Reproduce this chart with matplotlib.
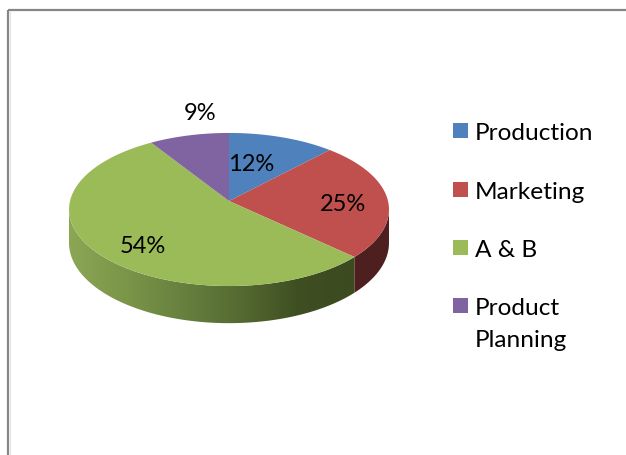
import numpy as np
import matplotlib
matplotlib.use('Agg')
import matplotlib.pyplot as plt
from matplotlib.patches import Polygon, Rectangle
from matplotlib.colors import LinearSegmentedColormap

# Chart data
categories = ['Production', 'Marketing', 'A & B', 'Product\nPlanning']
shares = [12, 25, 54, 9]
slice_colors = ['#4f81bd', '#c0504d', '#9bbb59', '#8064a2']
red_side = '#4d1f1f'

# Pie geometry in pixels, the disc is seen in perspective
cx, cy = 229, 202
half_w, half_h = 159, 75.6
persp = 0.111
depth = 33


def rim(t):
    # t is the angle clockwise from the top of the disc
    d = 1 + persp * np.cos(t)
    return np.column_stack([cx + half_w * np.sin(t) / d, cy - half_h * np.cos(t) / d])


def rim_low(t):
    # same rim, dropped to the underside of the disc
    d = 1 + persp * np.cos(t)
    return rim(t) + np.column_stack([np.zeros_like(t), depth / d])


plt.rcParams['font.family'] = ['Lato', 'DejaVu Sans']
fig = plt.figure(figsize=(6.26, 4.56), dpi=100)
ax = fig.add_axes([0, 0, 1, 1])
ax.set_xlim(0, 626)
ax.set_ylim(456, 0)
ax.axis('off')

# Chart frame
ax.plot([9.6, 9.6], [456, 11.5], color='#e4e4e4', lw=0.8, solid_capstyle='butt')
ax.plot([8, 8], [456, 10.5], color='#868686', lw=1.6, solid_capstyle='butt')
ax.plot([8, 626], [10.5, 10.5], color='#868686', lw=1.6, solid_capstyle='butt')

edges = np.cumsum([0] + shares) / sum(shares) * 2 * np.pi
# Rim angles where the disc outline turns away from the viewer
right_turn = np.arccos(-persp)
left_turn = 2 * np.pi - right_turn

# Side wall of the large slice, shaded from left to right
side_cmap = LinearSegmentedColormap.from_list(
    'green_side', ['#8ba654', '#7b9549', '#67803e', '#556a32', '#3f4f22', '#3c4a20'])
wall_t = np.linspace(edges[2], left_turn, 100)
wall = Polygon(np.vstack([rim(wall_t), rim_low(wall_t)[::-1]]), closed=True, fc='none', ec='none')
ax.add_patch(wall)
grad = np.linspace(0, 1, 256).reshape(1, -1)
img = ax.imshow(grad, cmap=side_cmap, aspect='auto', zorder=1,
                extent=[rim(wall_t)[:, 0].min(), rim(wall_t)[:, 0].max(), 330, 200])
img.set_clip_path(wall)
ax.set_xlim(0, 626)
ax.set_ylim(456, 0)

red_t = np.linspace(right_turn, edges[2], 40)
ax.add_patch(Polygon(np.vstack([rim(red_t), rim_low(red_t)[::-1]]), closed=True,
                     fc=red_side, ec='none', zorder=1))

# Top faces
for i in range(len(shares)):
    t = np.linspace(edges[i], edges[i + 1], 80)
    ax.add_patch(Polygon(np.vstack([[(cx, cy)], rim(t)]), closed=True,
                         fc=slice_colors[i], ec='none', zorder=2))

# Percent labels
label_pos = [(251, 171), (343, 211), (143, 253), (200, 120)]
for value, (x, y) in zip(shares, label_pos):
    ax.text(x, y, f'{value}%', ha='center', va='baseline', fontsize=17, color='black', zorder=3)

# Legend
legend_y = [139, 197.5, 256, 314]
for name, color, y in zip(categories, slice_colors, legend_y):
    ax.add_patch(Rectangle((453, y - 15), 15, 15, fc=color, ec='none'))
    for k, line in enumerate(name.split('\n')):
        ax.text(475, y + 1.5 + k * 32, line, ha='left', va='baseline', fontsize=17.6, color='black')

fig.savefig('out.png', dpi=100)
